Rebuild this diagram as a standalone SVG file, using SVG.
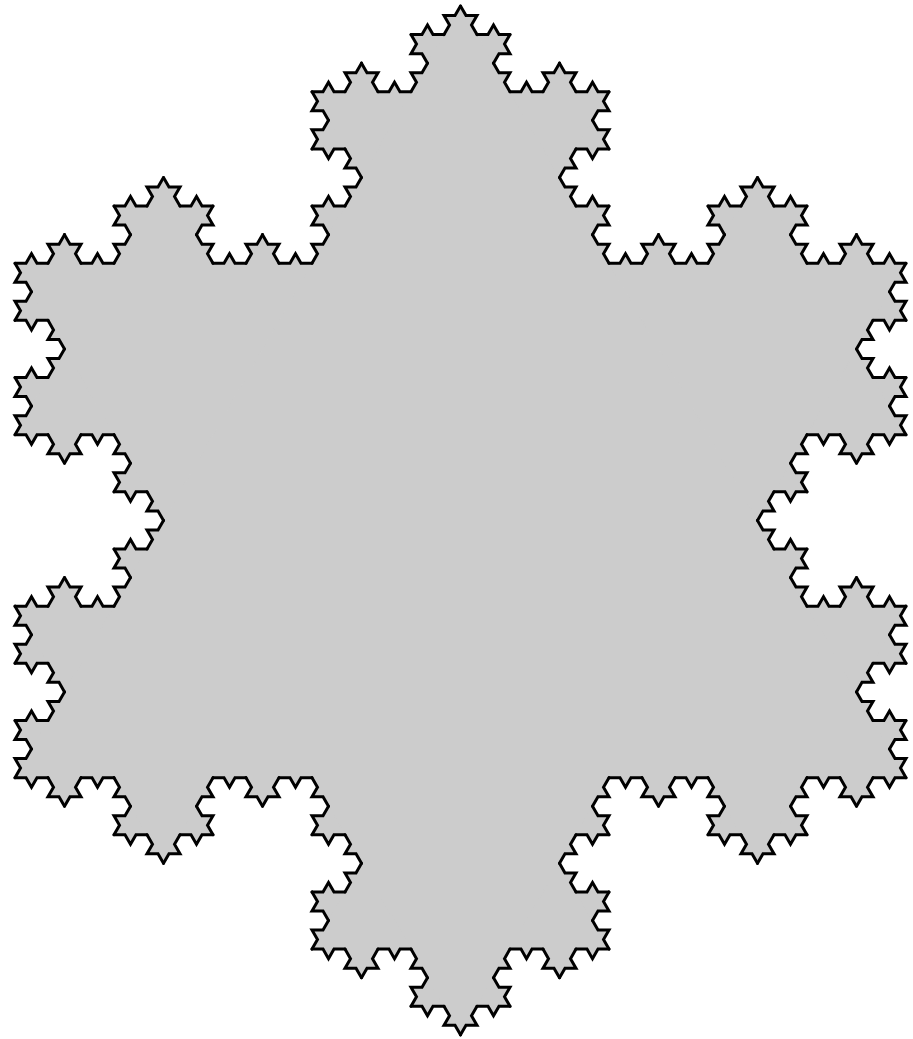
<svg xmlns="http://www.w3.org/2000/svg" xmlns:xlink="http://www.w3.org/1999/xlink" width="913" height="1039" viewBox="0 0 913 1039">
<style>
.f{fill:#cccccc;stroke:#cccccc;stroke-width:1.2;stroke-linejoin:round}
.s{fill:none;stroke:#000;stroke-width:3;stroke-linejoin:miter;stroke-linecap:round}
</style>
<defs>
<polyline id="c1" class="s" points="0,0 11,0 16.5,-9.5263 22,0 33,0"/>
<g id="c2">
<use xlink:href="#c1"/>
<use xlink:href="#c1" transform="translate(33,0) rotate(-60)"/>
<use xlink:href="#c1" transform="translate(49.5,-28.5788) rotate(60)"/>
<use xlink:href="#c1" transform="translate(66,0)"/>
</g>
<g id="c3">
<use xlink:href="#c2"/>
<use xlink:href="#c2" transform="translate(99,0) rotate(-60)"/>
<use xlink:href="#c2" transform="translate(148.5,-85.7365) rotate(60)"/>
<use xlink:href="#c2" transform="translate(198,0)"/>
</g>
<g id="c4">
<use xlink:href="#c3"/>
<use xlink:href="#c3" transform="translate(297,0) rotate(-60)"/>
<use xlink:href="#c3" transform="translate(445.5,-257.2094) rotate(60)"/>
<use xlink:href="#c3" transform="translate(594,0)"/>
</g>
<polygon id="f1" class="f" points="11,0 16.5,-9.5263 22,0"/>
<g id="f2">
<polygon class="f" points="33,0 49.5,-28.5788 66,0"/>
<use xlink:href="#f1"/>
<use xlink:href="#f1" transform="translate(33,0) rotate(-60)"/>
<use xlink:href="#f1" transform="translate(49.5,-28.5788) rotate(60)"/>
<use xlink:href="#f1" transform="translate(66,0)"/>
</g>
<g id="f3">
<polygon class="f" points="99,0 148.5,-85.7365 198,0"/>
<use xlink:href="#f2"/>
<use xlink:href="#f2" transform="translate(99,0) rotate(-60)"/>
<use xlink:href="#f2" transform="translate(148.5,-85.7365) rotate(60)"/>
<use xlink:href="#f2" transform="translate(198,0)"/>
</g>
<g id="f4">
<polygon class="f" points="297,0 445.5,-257.2094 594,0"/>
<use xlink:href="#f3"/>
<use xlink:href="#f3" transform="translate(297,0) rotate(-60)"/>
<use xlink:href="#f3" transform="translate(445.5,-257.2094) rotate(60)"/>
<use xlink:href="#f3" transform="translate(594,0)"/>
</g>
</defs>
<g id="snowflake-fill">
<polygon class="f" points="460.5,6 906,777.63 15,777.63"/>
<use xlink:href="#f4" transform="translate(460.5,6) rotate(60)"/>
<use xlink:href="#f4" transform="translate(906,777.63) rotate(180)"/>
<use xlink:href="#f4" transform="translate(15,777.63) rotate(-60)"/>
</g>
<g id="snowflake-outline">
<use xlink:href="#c4" transform="translate(460.5,6) rotate(60)"/>
<use xlink:href="#c4" transform="translate(906,777.63) rotate(180)"/>
<use xlink:href="#c4" transform="translate(15,777.63) rotate(-60)"/>
</g>
</svg>
